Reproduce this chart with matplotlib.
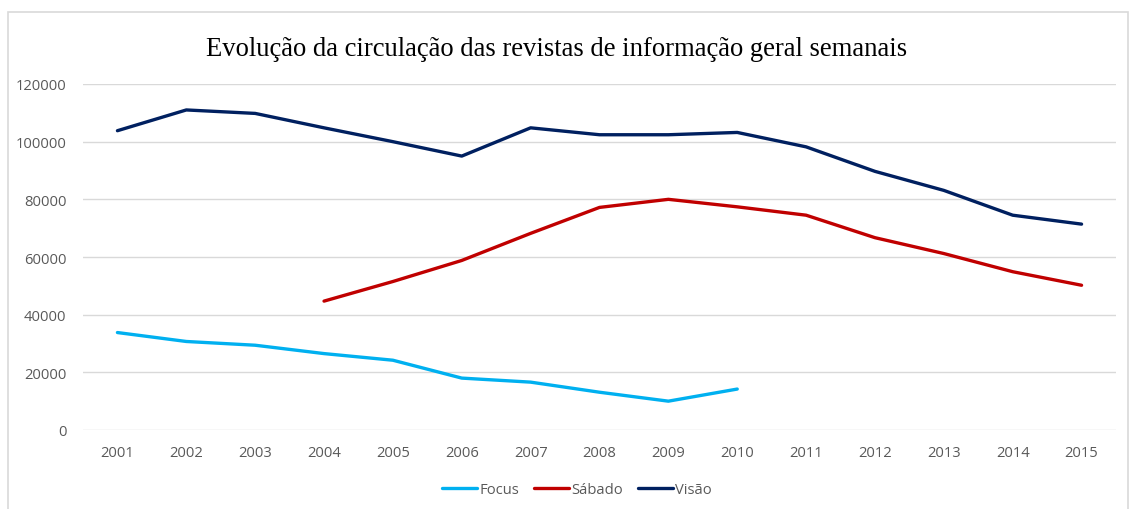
import matplotlib
matplotlib.use("Agg")
import matplotlib.pyplot as plt
from matplotlib.patches import Rectangle
import numpy as np

years = [str(y) for y in range(2001, 2016)]
focus = [33800, 30700, 29400, 26500, 24200, 18000, 16600, 13100, 10000, 14200,
         None, None, None, None, None]
sabado = [None, None, None, 44700, 51500, 58800, 68200, 77200, 80000, 77400,
          74500, 66700, 61200, 54900, 50200]
visao = [103800, 111000, 109800, 104800, 100000, 95000, 104800, 102400, 102400,
         103200, 98200, 89700, 83100, 74500, 71400]
yticks = [0, 20000, 40000, 60000, 80000, 100000, 120000]
title = "Evolução da circulação das revistas de informação geral semanais"

W, H = 1129, 510
fig = plt.figure(figsize=(W / 100, H / 100), dpi=100)
fig.patch.set_facecolor("white")

# outer chart frame
fig.add_artist(Rectangle((8 / W, -0.05), (1128 - 8) / W, 1.05 - 13 / H,
                         transform=fig.transFigure, fill=False,
                         edgecolor="#d9d9d9", linewidth=1.2))

left, right, top, bottom = 83, 1116, 85, 431
ax = fig.add_axes([left / W, 1 - bottom / H, (right - left) / W, (bottom - top) / H])

x = np.arange(len(years))

def arr(v):
    return np.array([np.nan if a is None else a for a in v], dtype=float)

ax.plot(x, arr(focus), color="#00B0F0", lw=2.4, label="Focus", solid_capstyle="round")
ax.plot(x, arr(sabado), color="#C00000", lw=2.4, label="Sábado", solid_capstyle="round")
ax.plot(x, arr(visao), color="#002060", lw=2.4, label="Visão", solid_capstyle="round")

ax.set_xlim(-0.5, len(years) - 0.5)
ax.set_ylim(0, 120000)
ax.set_yticks(yticks)
ax.set_yticklabels([str(v) for v in yticks])
ax.set_xticks(x)
ax.set_xticklabels(years)
ax.grid(axis="y", color="#d9d9d9", lw=1.0)
ax.set_axisbelow(True)
for s in ax.spines.values():
    s.set_visible(False)
ax.tick_params(length=0, colors="#595959", labelsize=10.6)
ax.tick_params(axis="x", pad=11)
ax.tick_params(axis="y", pad=12)
for lab in ax.get_xticklabels() + ax.get_yticklabels():
    lab.set_family("Open Sans")

fig.text(557 / W, 1 - 50 / H, title, ha="center", va="center",
         family="Liberation Serif", fontsize=19.2, color="black")

leg = fig.legend(loc="center", bbox_to_anchor=(577 / W, 1 - 491 / H), ncol=3,
                 frameon=False, prop={"family": "Open Sans", "size": 10.6},
                 handlelength=2.4, handletextpad=0.15, columnspacing=1.0)
for t in leg.get_texts():
    t.set_color("#595959")

fig.savefig("out.png", dpi=100)
